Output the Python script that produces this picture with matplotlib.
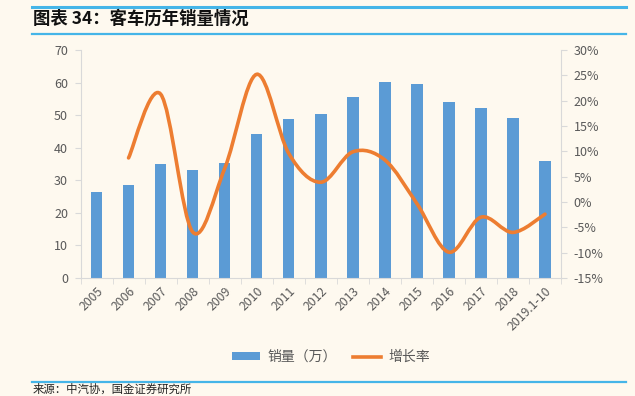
import matplotlib
matplotlib.use('Agg')
import matplotlib.pyplot as plt
from matplotlib.path import Path
from matplotlib.patches import PathPatch
from matplotlib.lines import Line2D
from matplotlib.patches import Patch
import numpy as np

plt.rcParams['font.family'] = ['Noto Sans CJK SC', 'DejaVu Sans']

years = ['2005', '2006', '2007', '2008', '2009', '2010', '2011', '2012',
         '2013', '2014', '2015', '2016', '2017', '2018', '2019.1-10']
sales = [26.5, 28.7, 35.0, 33.2, 35.4, 44.2, 48.7, 50.5,
         55.7, 60.2, 59.7, 53.9, 52.1, 49.0, 36.0]
growth = [None, 8.7, 21.3, -5.9, 6.6, 25.2, 9.6, 3.9,
          9.9, 8.3, -0.3, -9.9, -3.0, -6.0, -2.4]

bg = '#FEF9EF'
blue = '#5B9BD5'
orange = '#ED7D31'
grey = '#595959'
axc = '#D9D9D9'
rule = '#45B5E8'

fig = plt.figure(figsize=(6.35, 3.96), dpi=100, facecolor=bg)

# header / footer rules
for y, lw in [(1 - 7 / 396, 2.2), (1 - 33.5 / 396, 1.6), (1 - 382 / 396, 1.6)]:
    fig.add_artist(Line2D([32 / 635, 626 / 635], [y, y], color=rule, lw=lw))
fig.text(33 / 635, 1 - 19 / 396, '图表 34：客车历年销量情况', fontsize=12.5,
         fontweight='heavy', va='center', ha='left', color='#111111')
fig.text(33 / 635, 1.5 / 396, '来源：中汽协，国金证券研究所', fontsize=8.2,
         va='bottom', ha='left', color='#222222')

ax = fig.add_axes([80.5 / 635, 1 - 278 / 396, 480.5 / 635, 228 / 396])
ax.set_facecolor(bg)
x = np.arange(len(years))
ax.bar(x, sales, width=0.36, color=blue, zorder=2)
ax.set_xlim(-0.5, len(years) - 0.5)
ax.set_ylim(0, 70)
ax.set_yticks(range(0, 71, 10))
ax.set_xticks(x)
ax.set_xticklabels(years, rotation=45, ha='right', rotation_mode='anchor')
ax.set_xticks(np.arange(-0.5, len(years)), minor=True)
ax.tick_params(axis='x', which='major', length=0, pad=5, labelsize=8.8, labelcolor=grey)
ax.tick_params(axis='x', which='minor', length=4, color=axc)
ax.tick_params(axis='y', length=4, color=axc, labelsize=9, labelcolor=grey, pad=5)
for s in ['top', 'right']:
    ax.spines[s].set_visible(False)
for s in ['left', 'bottom']:
    ax.spines[s].set_color(axc)

ax2 = ax.twinx()
ax2.set_ylim(-15, 30)
ax2.set_yticks(range(-15, 31, 5))
ax2.set_yticklabels([f'{v}%' for v in range(-15, 31, 5)])
ax2.tick_params(axis='y', length=4, color=axc, labelsize=9, labelcolor=grey, pad=5)
for s in ['top', 'left', 'bottom']:
    ax2.spines[s].set_visible(False)
ax2.spines['right'].set_color(axc)

# smoothed line (Excel-style bezier through points)
pts = np.array([(i, g) for i, g in enumerate(growth) if g is not None], dtype=float)
verts = [tuple(pts[0])]
codes = [Path.MOVETO]
n = len(pts)
for i in range(n - 1):
    p0 = pts[i - 1] if i > 0 else pts[i]
    p1 = pts[i]
    p2 = pts[i + 1]
    p3 = pts[i + 2] if i + 2 < n else pts[i + 1]
    c1 = p1 + (p2 - p0) / 6
    c2 = p2 - (p3 - p1) / 6
    verts += [tuple(c1), tuple(c2), tuple(p2)]
    codes += [Path.CURVE4] * 3
ax2.add_patch(PathPatch(Path(verts, codes), fill=False, edgecolor=orange,
                        lw=2.6, capstyle='round', zorder=3))

handles = [Patch(facecolor=blue, edgecolor='none'),
           Line2D([0], [0], color=orange, lw=2.6)]
fig.legend(handles, ['销量（万）', '增长率'], loc='center', ncol=2,
           bbox_to_anchor=(331 / 635, 1 - 357 / 396), frameon=False, fontsize=10,
           labelcolor=grey, handlelength=2.0, handleheight=0.5, columnspacing=1.2,
           handletextpad=0.5)

fig.savefig('out.png', dpi=100, facecolor=bg)
